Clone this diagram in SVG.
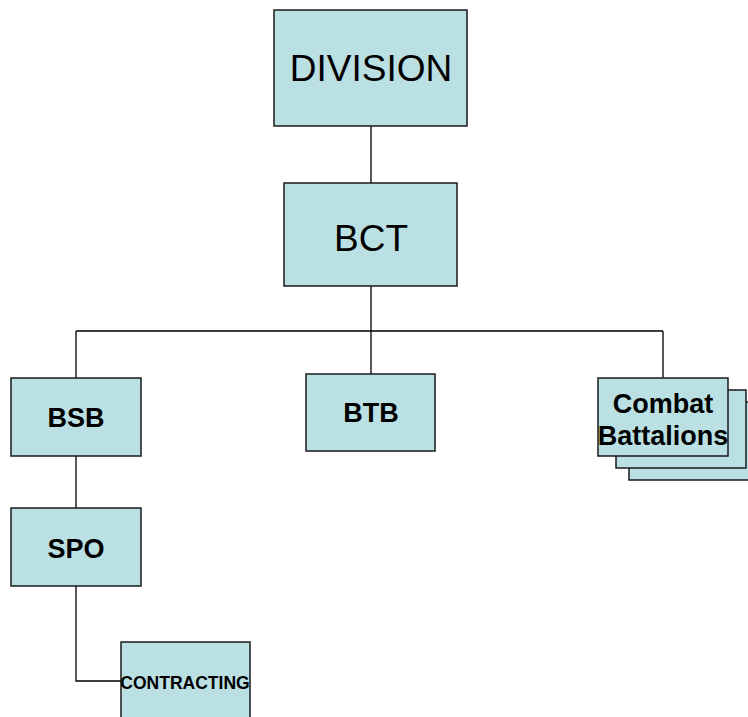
<svg xmlns="http://www.w3.org/2000/svg" width="748" height="717" viewBox="0 0 748 717">
<style>
.box{fill:#bbe0e3;stroke:#1a1a1a;stroke-width:1.5}
.ln{stroke:#000;stroke-width:1.3;fill:none}
.big{font-family:"Liberation Sans",Arial,sans-serif;font-size:37px;fill:#000;text-anchor:middle}
.bd{font-family:"Liberation Sans",Arial,sans-serif;font-weight:bold;font-size:27px;fill:#000;text-anchor:middle}
.sm{font-family:"Liberation Sans",Arial,sans-serif;font-weight:bold;font-size:17.5px;fill:#000;text-anchor:middle}
</style>
<rect width="748" height="717" fill="#fff"/>
<g id="connectors">
<path class="ln" d="M371 126V183M371 286V374M76 331H663M76 331V378M663 331V378M76 456V508M76 586V681H121"/>
</g>
<g id="division"><rect class="box" x="274" y="10" width="193" height="116"/><text class="big" x="371" y="81">DIVISION</text></g>
<g id="bct"><rect class="box" x="284" y="183" width="173" height="103"/><text class="big" x="371" y="251">BCT</text></g>
<g id="bsb"><rect class="box" x="11" y="378" width="130" height="78"/><text class="bd" x="76" y="427">BSB</text></g>
<g id="btb"><rect class="box" x="306" y="374" width="129" height="77"/><text class="bd" x="371" y="422">BTB</text></g>
<g id="combat">
<rect class="box" x="629" y="402" width="130" height="78"/>
<rect class="box" x="616" y="390" width="130" height="78"/>
<rect class="box" x="598" y="378" width="130" height="78"/>
<text class="bd" x="663" y="413">Combat</text><text class="bd" x="663" y="445">Battalions</text>
</g>
<g id="spo"><rect class="box" x="11" y="508" width="130" height="78"/><text class="bd" x="76" y="558">SPO</text></g>
<g id="contracting"><rect class="box" x="121" y="642" width="129" height="90"/><text class="sm" x="185" y="689">CONTRACTING</text></g>
</svg>
